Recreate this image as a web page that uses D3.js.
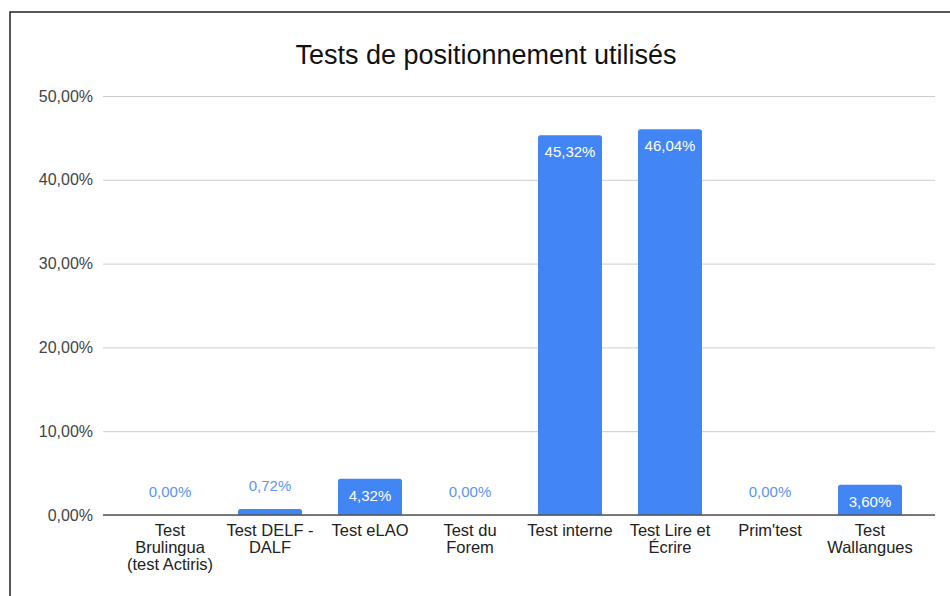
<!DOCTYPE html>
<html>
<head>
<meta charset="utf-8">
<script src="https://cdn.jsdelivr.net/npm/d3@7"></script>
<style>
  body { margin: 0; background: #fff; }
  svg { display: block; font-family: Arial, "Liberation Sans", sans-serif; }
</style>
</head>
<body>
<div id="chart"></div>
<script>
const categories = ['Test Brulingua (test Actiris)', 'Test DELF - DALF', 'Test eLAO', 'Test du Forem',
                    'Test interne', 'Test Lire et Écrire', "Prim'test", 'Test Wallangues'];
const tickLines = [['Test', 'Brulingua', '(test Actiris)'], ['Test DELF -', 'DALF'], ['Test eLAO'],
                   ['Test du', 'Forem'], ['Test interne'], ['Test Lire et', 'Écrire'], ["Prim'test"],
                   ['Test', 'Wallangues']];
const values = [0, 0.72, 4.32, 0, 45.32, 46.04, 0, 3.60];
const yTicks = [0, 10, 20, 30, 40, 50];
const title = 'Tests de positionnement utilisés';

const W = 950, H = 596;
const fmt = (v) => v.toFixed(2).replace('.', ',') + '%';
const rows = categories.map((c, i) => ({ cat: c, value: values[i], lines: tickLines[i] }));

const svg = d3.select('#chart').append('svg')
  .attr('width', W)
  .attr('height', H);

// frame
svg.append('rect')
  .attr('x', 10).attr('y', 12)
  .attr('width', W + 20).attr('height', H + 20)
  .attr('fill', 'none')
  .attr('stroke', '#222')
  .attr('stroke-width', 1.5);

svg.append('text')
  .attr('x', 486).attr('y', 64)
  .attr('text-anchor', 'middle')
  .attr('font-size', 27)
  .attr('fill', '#111')
  .text(title);

const x = d3.scaleBand()
  .domain(categories)
  .range([120, 920])
  .paddingInner(0.36)
  .paddingOuter(0.18);

const y = d3.scaleLinear().domain([0, 50]).range([515, 96]);

// gridlines + y labels
const yAxis = svg.append('g')
  .attr('transform', 'translate(103,0)')
  .call(d3.axisLeft(y).tickValues(yTicks).tickSize(-832).tickFormat(fmt).tickPadding(10));
yAxis.select('.domain').remove();
yAxis.selectAll('.tick line').attr('stroke', '#ccc');
yAxis.selectAll('.tick text')
  .attr('font-size', 16)
  .attr('font-family', 'Arial, "Liberation Sans", sans-serif')
  .attr('fill', '#444');

// bars
svg.append('g').selectAll('path')
  .data(rows.filter((d) => d.value > 0))
  .join('path')
  .attr('fill', '#4285f4')
  .attr('d', (d) => {
    const x0 = x(d.cat), w = x.bandwidth();
    const top = y(d.value), base = y(0), r = Math.min(2.5, (base - top));
    return `M${x0},${base}V${top + r}Q${x0},${top} ${x0 + r},${top}H${x0 + w - r}` +
           `Q${x0 + w},${top} ${x0 + w},${top + r}V${base}Z`;
  });

// baseline
svg.append('line')
  .attr('x1', 103).attr('x2', 935)
  .attr('y1', y(0)).attr('y2', y(0))
  .attr('stroke', '#555')
  .attr('stroke-width', 1.5);

// value labels
const outside = (d) => y(d.value) > y(0) - 28;
svg.append('g').selectAll('text')
  .data(rows)
  .join('text')
  .attr('x', (d) => x(d.cat) + x.bandwidth() / 2)
  .attr('y', (d) => outside(d) ? y(d.value) - 18 : y(d.value) + 22)
  .attr('text-anchor', 'middle')
  .attr('font-size', 15)
  .attr('fill', (d) => outside(d) ? '#5b95f5' : '#fff')
  .text((d) => fmt(d.value));

// category labels
const xl = svg.append('g').selectAll('text')
  .data(rows)
  .join('text')
  .attr('text-anchor', 'middle')
  .attr('font-size', 16.5)
  .attr('fill', '#222')
  .attr('y', 536);
xl.selectAll('tspan')
  .data((d) => d.lines.map((t) => ({ t, cx: x(d.cat) + x.bandwidth() / 2 })))
  .join('tspan')
  .attr('x', (d) => d.cx)
  .attr('dy', (d, j) => j === 0 ? 0 : 17)
  .text((d) => d.t);
</script>
</body>
</html>
